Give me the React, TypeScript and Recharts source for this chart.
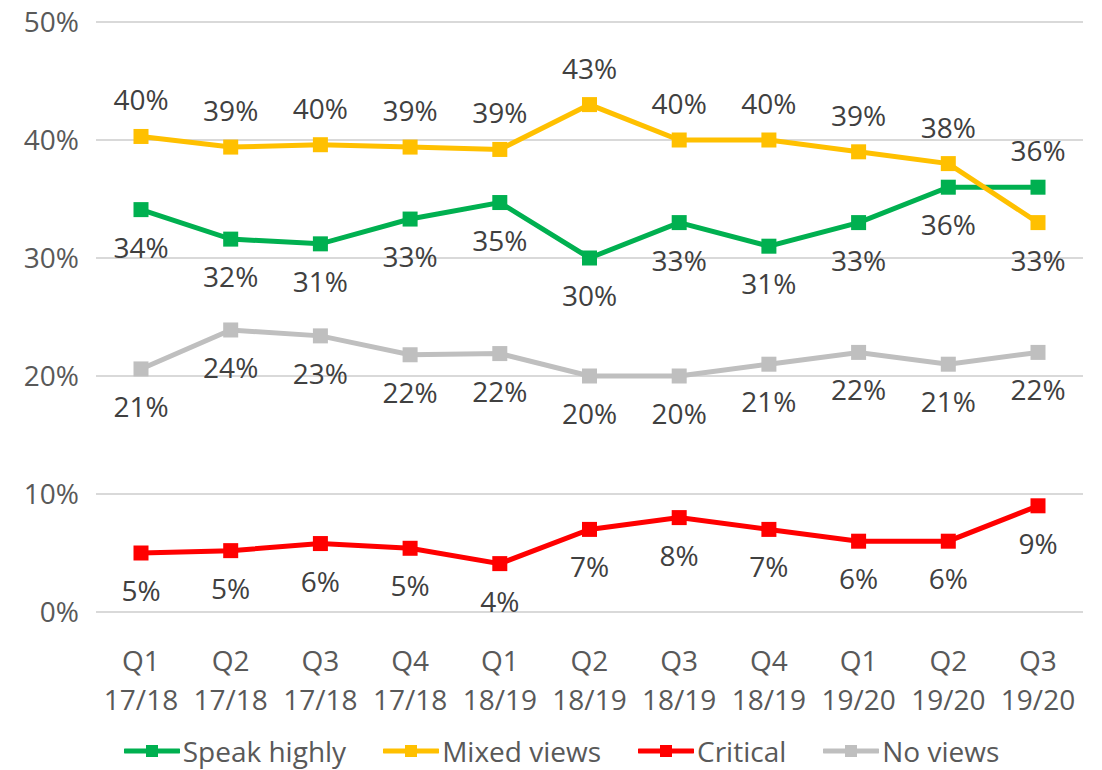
import { CartesianGrid, LabelList, Legend, Line, LineChart, XAxis, YAxis } from "recharts";

const quarters = ["Q1 17/18", "Q2 17/18", "Q3 17/18", "Q4 17/18", "Q1 18/19", "Q2 18/19", "Q3 18/19", "Q4 18/19", "Q1 19/20", "Q2 19/20", "Q3 19/20"];
const speakHighly = [34.1, 31.6, 31.2, 33.3, 34.7, 30, 33, 31, 33, 36, 36];
const mixedViews = [40.3, 39.4, 39.6, 39.4, 39.2, 43, 40, 40, 39, 38, 33];
const critical = [5.0, 5.2, 5.8, 5.4, 4.1, 7, 8, 7, 6, 6, 9];
const noViews = [20.6, 23.9, 23.4, 21.8, 21.9, 20, 20, 21, 22, 21, 22];
const yTicks = [0, 10, 20, 30, 40, 50];

const FONT = "'Open Sans', 'Noto Sans', sans-serif";
const FS = 28;

const series = [
  { key: "speak", name: "Speak highly", color: "#00b050", values: speakHighly, above: [10], below: [] as number[], defaultAbove: false },
  { key: "mixed", name: "Mixed views", color: "#ffc000", values: mixedViews, above: [] as number[], below: [10], defaultAbove: true },
  { key: "critical", name: "Critical", color: "#ff0000", values: critical, above: [] as number[], below: [] as number[], defaultAbove: false },
  { key: "none", name: "No views", color: "#bfbfbf", values: noViews, above: [] as number[], below: [] as number[], defaultAbove: false },
];

const data = quarters.map((q, i) => {
  const row: Record<string, string | number> = { quarter: q };
  series.forEach((s) => (row[s.key] = s.values[i]));
  return row;
});

function squareDot(color: string) {
  return (props: any) => {
    const { cx, cy, index } = props;
    if (cx == null || cy == null) return <g key={index} />;
    return <rect key={index} x={cx - 7.5} y={cy - 7.5} width={15} height={15} fill={color} />;
  };
}

function labelFor(s: (typeof series)[number]) {
  return (props: any) => {
    const { x, y, value, index } = props;
    let above = s.defaultAbove;
    if (s.above.includes(index)) above = true;
    if (s.below.includes(index)) above = false;
    return (
      <text
        x={x}
        y={above ? y - 26 : y + 48}
        textAnchor="middle"
        fill="#404040"
        fontSize={FS}
        fontFamily={FONT}
      >
        {`${Math.round(value)}%`}
      </text>
    );
  };
}

function QuarterTick(props: any) {
  const { x, y, payload } = props;
  const [q, yr] = String(payload.value).split(" ");
  return (
    <text x={x} textAnchor="middle" fill="#595959" fontSize={FS} fontFamily={FONT}>
      <tspan x={x} y={y + 51}>{q}</tspan>
      <tspan x={x} y={y + 90}>{yr}</tspan>
    </text>
  );
}

function LegendContent() {
  return (
    <div
      style={{
        height: 50,
        display: "flex",
        alignItems: "flex-end",
        justifyContent: "center",
        gap: 37,
        paddingLeft: 40,
        paddingBottom: 4,
        boxSizing: "border-box",
        fontFamily: FONT,
        fontSize: FS,
        color: "#595959",
      }}
    >
      {series.map((s) => (
        <div key={s.key} style={{ display: "flex", alignItems: "center", lineHeight: "30px" }}>
          <svg width={56} height={20} style={{ marginRight: 3 }}>
            <line x1={1} y1={10} x2={55} y2={10} stroke={s.color} strokeWidth={5} strokeLinecap="round" />
            <rect x={22} y={4} width={12} height={12} fill={s.color} />
          </svg>
          <span>{s.name}</span>
        </div>
      ))}
    </div>
  );
}

export default function App() {
  return (
    <div style={{ position: "absolute", left: 0, top: 0, width: 1102, height: 770, background: "#fff" }}>
      <LineChart width={1102} height={770} data={data} margin={{ top: 22, right: 19, bottom: 0, left: 0 }}>
        <CartesianGrid vertical={false} stroke="#d9d9d9" strokeWidth={2} />
        <XAxis
          dataKey="quarter"
          height={108}
          padding={{ left: 45, right: 45 }}
          tickLine={false}
          axisLine={{ stroke: "#d9d9d9", strokeWidth: 2 }}
          interval={0}
          tick={<QuarterTick />}
        />
        <YAxis
          width={96}
          domain={[0, 50]}
          ticks={yTicks}
          tickFormatter={(v) => `${v}%`}
          axisLine={false}
          tickLine={false}
          tickMargin={11}
          tick={{ fill: "#595959", fontSize: FS, fontFamily: FONT }}
        />
        <Legend verticalAlign="bottom" height={50} content={<LegendContent />} />
        {series.map((s) => (
          <Line
            key={s.key}
            dataKey={s.key}
            name={s.name}
            stroke={s.color}
            strokeWidth={5}
            dot={squareDot(s.color)}
            activeDot={false}
            isAnimationActive={false}
          >
            <LabelList dataKey={s.key} content={labelFor(s)} />
          </Line>
        ))}
      </LineChart>
    </div>
  );
}
